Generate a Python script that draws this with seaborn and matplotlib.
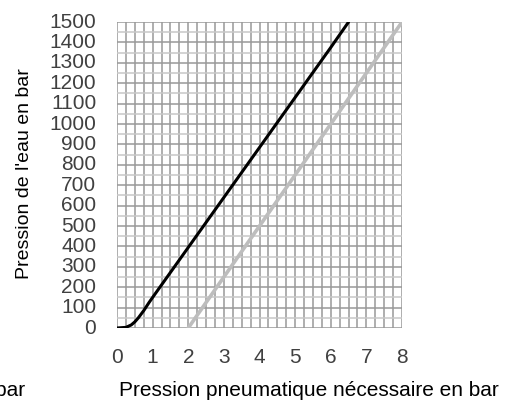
import matplotlib
matplotlib.use('Agg')
import matplotlib.pyplot as plt
import seaborn as sns
from matplotlib.ticker import MultipleLocator

# courbe noire (pression pneumatique -> pression de l'eau)
pneu_noir = [0, 0.25, 0.4, 0.5, 0.6, 0.75, 0.9, 1.0, 2.0, 3.0, 4.0, 5.0, 6.0, 6.5]
eau_noir = [0, 3, 15, 30, 50, 85, 125, 150, 395, 640, 885, 1130, 1375, 1500]

# droite grise
pneu_gris = [2, 8]
eau_gris = [0, 1500]

x_ticks = [0, 1, 2, 3, 4, 5, 6, 7, 8]
y_ticks = list(range(0, 1501, 100))

sns.set_style('white')
plt.rcParams['font.family'] = ['Liberation Sans', 'DejaVu Sans']

fig = plt.figure(figsize=(5.14, 4.0), dpi=100)
ax = fig.add_axes([117/514, 1 - 328/400, 285/514, 306/400])

sns.lineplot(x=pneu_gris, y=eau_gris, color='#bdbdbd', lw=2.6, ax=ax, sort=False, zorder=3)
sns.lineplot(x=pneu_noir, y=eau_noir, color='black', lw=2.2, ax=ax, sort=False, zorder=4)

ax.set_xlim(0, 8)
ax.set_ylim(0, 1500)
ax.set_xticks(x_ticks)
ax.set_yticks(y_ticks)
ax.xaxis.set_minor_locator(MultipleLocator(0.25))
ax.yaxis.set_minor_locator(MultipleLocator(50))

ax.grid(which='major', axis='both', color='#999999', lw=1.1)
ax.grid(which='minor', axis='x', color='#999999', lw=1.1)
ax.grid(which='minor', axis='y', color='#c8c8c8', lw=1.1)
ax.set_axisbelow(True)
for s in ax.spines.values():
    s.set_visible(False)

ax.tick_params(axis='x', which='both', length=6.5, width=1.1, color='#999999',
               pad=8, labelsize=15, labelcolor='#404040')
ax.tick_params(axis='y', which='major', length=5, width=1.1, color='#999999',
               pad=10, labelsize=15, labelcolor='#404040')
ax.tick_params(axis='y', which='minor', length=5, width=1.1, color='#c8c8c8')
for lab in ax.get_yticklabels():
    lab.set_verticalalignment('center')

ax.set_xlabel('')
ax.set_ylabel('')
fig.text(309/514, 1 - 391/400, 'Pression pneumatique nécessaire en bar',
         ha='center', va='center', fontsize=15, color='black')
fig.text(25/514, 1 - 174/400, "Pression de l'eau en bar", rotation=90,
         ha='center', va='center', fontsize=14, color='black')
fig.text(25/514, 1 - 391/400, 'en bar', ha='right', va='center', fontsize=15, color='black')

fig.savefig('out.png', dpi=100)
